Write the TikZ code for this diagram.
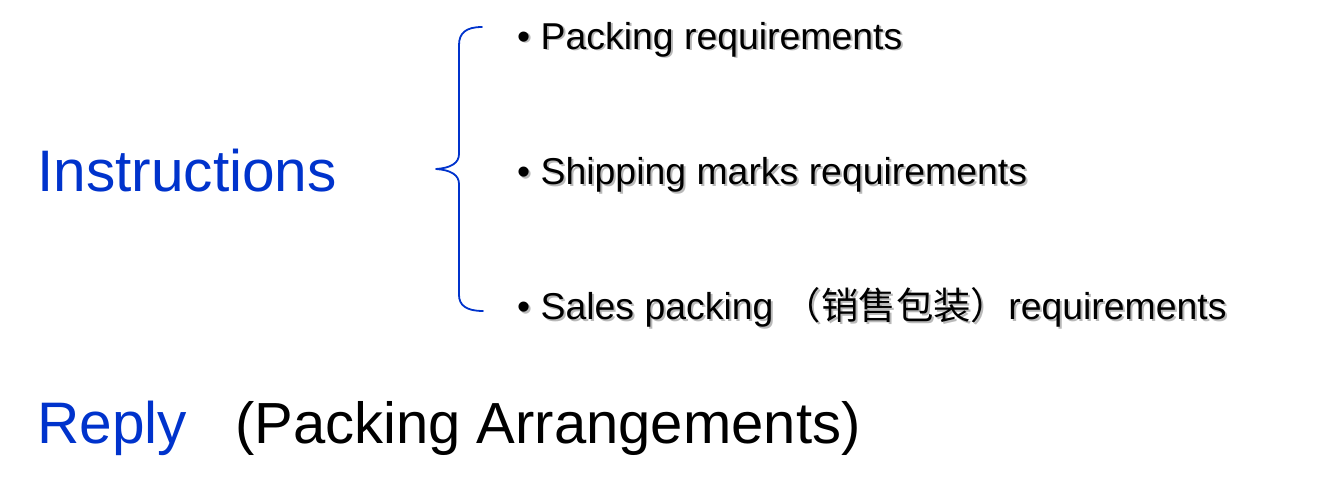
\documentclass[tikz,border=0pt]{standalone}
\usepackage{fontspec}
\setmainfont{Liberation Sans}
\newfontfamily\cjk{Noto Sans CJK SC}
\definecolor{hdblue}{RGB}{0,51,204}
\definecolor{shadowgray}{RGB}{185,185,185}
\tikzset{
  big/.style={anchor=base west, inner sep=0pt, font=\fontsize{58.6}{62}\selectfont},
  item/.style={anchor=base west, inner sep=0pt, font=\fontsize{37.4}{40}\selectfont, text=black},
  itemshadow/.style={item, text=shadowgray},
  bracestyle/.style={draw=hdblue, line width=1.8pt, line cap=round, line join=round}
}
\newcommand{\itemA}{\textbullet\ Packing requirements}
\newcommand{\itemB}{\textbullet\ Shipping marks requirements}
\newcommand{\itemC}{\textbullet\ Sales packing {\cjk （销售包装）}requirements}
\begin{document}
\begin{tikzpicture}[x=1pt,y=-1pt]
\useasboundingbox (0,0) rectangle (1325,495);
\node[big, text=hdblue] (instr) at (37,191) {Instructions};
\node[big, text=hdblue] (reply) at (37,443) {Reply};
\node[big, text=black, font=\fontsize{58}{62}\selectfont] (arr) at (235,443) {(Packing Arrangements)};
\node[itemshadow] (s1) at (519,51) {\itemA};
\node[item] (i1) at (517,49) {\itemA};
\node[itemshadow] (s2) at (519,186) {\itemB};
\node[item] (i2) at (517,184) {\itemB};
\node[itemshadow] (s3) at (519,321) {\itemC};
\node[item] (i3) at (517,319) {\itemC};
\coordinate (btop) at (482,27);
\coordinate (btip) at (436,169);
\coordinate (bbot) at (483,311);
\draw[bracestyle] (btop) .. controls (466,27) and (459,33) .. (459,45) -- (459,154)
  .. controls (459,163) and (451,168) .. (btip)
  .. controls (451,170) and (459,175) .. (459,184) -- (459,295)
  .. controls (459,305) and (466,311) .. (bbot);
\end{tikzpicture}
\end{document}
